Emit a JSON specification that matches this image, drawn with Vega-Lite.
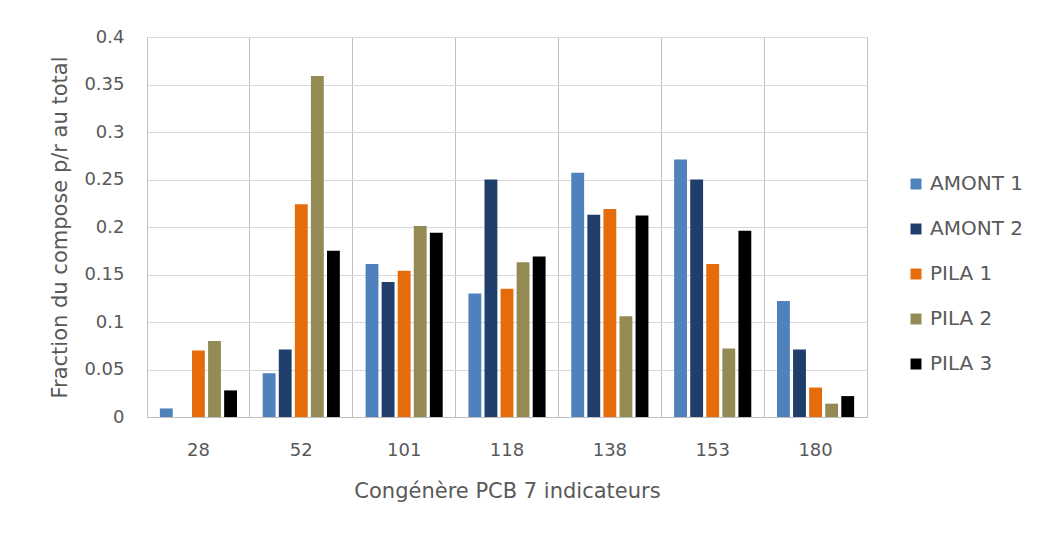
{
  "$schema": "https://vega.github.io/schema/vega-lite/v6.json",
  "autosize": {"type": "none"},
  "width": 720,
  "height": 380,
  "padding": {"left": 147, "top": 37, "right": 170, "bottom": 116},
  "background": "white",
  "config": {
    "font": "DejaVu Sans",
    "view": {"stroke": "#bfbfbf", "strokeWidth": 1}
  },
  "data": {
    "values": [
      {"congener": "28", "series": "AMONT 1", "value": 0.009},
      {"congener": "28", "series": "AMONT 2", "value": 0},
      {"congener": "28", "series": "PILA 1", "value": 0.07},
      {"congener": "28", "series": "PILA 2", "value": 0.08},
      {"congener": "28", "series": "PILA 3", "value": 0.028},
      {"congener": "52", "series": "AMONT 1", "value": 0.046},
      {"congener": "52", "series": "AMONT 2", "value": 0.071},
      {"congener": "52", "series": "PILA 1", "value": 0.224},
      {"congener": "52", "series": "PILA 2", "value": 0.359},
      {"congener": "52", "series": "PILA 3", "value": 0.175},
      {"congener": "101", "series": "AMONT 1", "value": 0.161},
      {"congener": "101", "series": "AMONT 2", "value": 0.142},
      {"congener": "101", "series": "PILA 1", "value": 0.154},
      {"congener": "101", "series": "PILA 2", "value": 0.201},
      {"congener": "101", "series": "PILA 3", "value": 0.194},
      {"congener": "118", "series": "AMONT 1", "value": 0.13},
      {"congener": "118", "series": "AMONT 2", "value": 0.25},
      {"congener": "118", "series": "PILA 1", "value": 0.135},
      {"congener": "118", "series": "PILA 2", "value": 0.163},
      {"congener": "118", "series": "PILA 3", "value": 0.169},
      {"congener": "138", "series": "AMONT 1", "value": 0.257},
      {"congener": "138", "series": "AMONT 2", "value": 0.213},
      {"congener": "138", "series": "PILA 1", "value": 0.219},
      {"congener": "138", "series": "PILA 2", "value": 0.106},
      {"congener": "138", "series": "PILA 3", "value": 0.212},
      {"congener": "153", "series": "AMONT 1", "value": 0.271},
      {"congener": "153", "series": "AMONT 2", "value": 0.25},
      {"congener": "153", "series": "PILA 1", "value": 0.161},
      {"congener": "153", "series": "PILA 2", "value": 0.072},
      {"congener": "153", "series": "PILA 3", "value": 0.196},
      {"congener": "180", "series": "AMONT 1", "value": 0.122},
      {"congener": "180", "series": "AMONT 2", "value": 0.071},
      {"congener": "180", "series": "PILA 1", "value": 0.031},
      {"congener": "180", "series": "PILA 2", "value": 0.014},
      {"congener": "180", "series": "PILA 3", "value": 0.022}
    ]
  },
  "layer": [
    {
      "mark": {"type": "bar", "opacity": 0},
      "encoding": {
        "x": {
          "field": "congener", "type": "nominal", "sort": null,
          "scale": {"paddingInner": 0, "paddingOuter": 0},
          "axis": {"orient": "bottom", "grid": true, "gridColor": "#bfbfbf", "bandPosition": 0, "labels": false, "ticks": false, "domain": false, "title": null, "minExtent": 0, "maxExtent": 0}
        },
        "y": {"field": "value", "type": "quantitative"}
      }
    },
    {
      "mark": {"type": "bar"},
      "encoding": {
        "x": {
          "field": "congener", "type": "nominal", "sort": null,
          "axis": {
            "orient": "bottom",
            "grid": false, "ticks": false, "domain": true, "domainColor": "#bfbfbf",
            "labelAngle": 0, "labelFontSize": 18, "labelColor": "#595959", "labelPadding": 24,
            "title": "Congénère PCB 7 indicateurs", "titleFontSize": 21, "titleFontWeight": "normal",
            "titleColor": "#595959", "titlePadding": 21
          }
        },
        "xOffset": {
          "field": "series", "type": "nominal",
          "scale": {"paddingInner": 0.2, "paddingOuter": 0.8}
        },
        "y": {
          "field": "value", "type": "quantitative",
          "scale": {"domain": [0, 0.4], "nice": false},
          "axis": {
            "values": [0, 0.05, 0.1, 0.15, 0.2, 0.25, 0.3, 0.35, 0.4],
            "format": "~g", "grid": true, "gridColor": "#d9d9d9", "ticks": false, "domain": false,
            "labelFontSize": 18, "labelColor": "#595959", "labelPadding": 23,
            "title": "Fraction du compose p/r au total", "titleFontSize": 21, "titleFontWeight": "normal",
            "titleColor": "#595959", "titlePadding": 13
          }
        },
        "color": {
          "field": "series", "type": "nominal",
          "scale": {
            "domain": ["AMONT 1", "AMONT 2", "PILA 1", "PILA 2", "PILA 3"],
            "range": ["#4f81bd", "#1f3e6b", "#e46c0a", "#948a54", "#000000"]
          },
          "legend": {
            "orient": "none", "legendX": 759, "legendY": 137, "title": null,
            "symbolType": "square", "symbolSize": 120, "symbolStrokeWidth": 0,
            "labelFontSize": 20, "labelColor": "#595959", "rowPadding": 25, "labelOffset": 4
          }
        }
      }
    }
  ],
  "resolve": {"axis": {"x": "independent"}}
}
